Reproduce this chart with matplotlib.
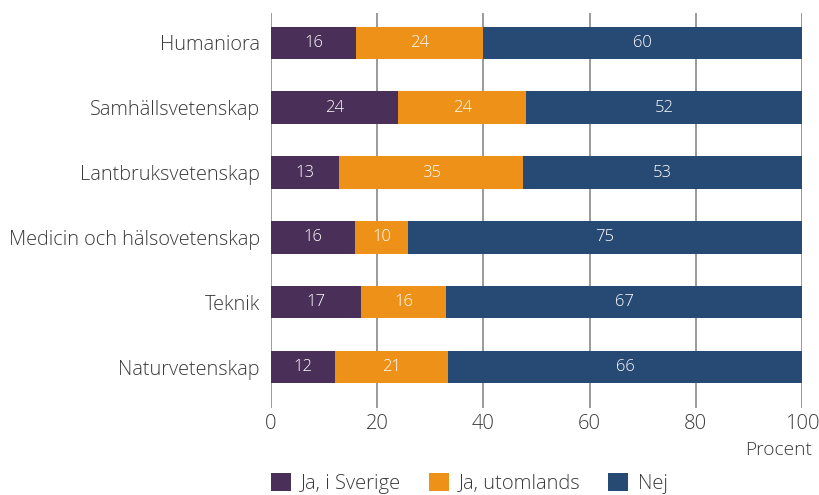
import numpy as np
import matplotlib.pyplot as plt

# andel som svarat, procent
omraden = ['Humaniora', 'Samhällsvetenskap', 'Lantbruksvetenskap',
           'Medicin och hälsovetenskap', 'Teknik', 'Naturvetenskap']
ja_sverige = [16, 24, 13, 16, 17, 12]
ja_utomlands = [24, 24, 35, 10, 16, 21]
nej = [60, 52, 53, 75, 67, 66]
serier = ['Ja, i Sverige', 'Ja, utomlands', 'Nej']
farger = ['#4a3058', '#ee9119', '#274a75']

plt.rcParams['font.family'] = ['Open Sans', 'DejaVu Sans']
plt.rcParams['font.weight'] = 300

fig = plt.figure(figsize=(8.2, 4.95), dpi=100)
ax = fig.add_axes([0.3305, 0.1758, 0.978 - 0.3305, 0.9737 - 0.1758])

data = np.array([ja_sverige, ja_utomlands, nej], dtype=float)
totalt = data.sum(axis=0)
andel = data / totalt * 100  # staplarna går alltid till 100
y = np.arange(len(omraden))

ax.grid(axis='x', color='#9a9a9a', linewidth=1.4, zorder=0)
ax.set_axisbelow(True)

vanster = np.zeros(len(omraden))
for i in range(3):
    ax.barh(y, andel[i], left=vanster, height=0.5, color=farger[i],
            label=serier[i], zorder=2)
    for j in range(len(omraden)):
        ax.text(vanster[j] + andel[i][j] / 2, y[j], str(int(data[i][j])),
                ha='center', va='center', color='white', fontsize=12,
                zorder=3)
    vanster = vanster + andel[i]

ax.set_xlim(0, 100)
ax.set_ylim(5.63, -0.46)
ax.set_xticks([0, 20, 40, 60, 80, 100])
ax.set_yticks(y)
ax.set_yticklabels(omraden, fontsize=14.3, color='#3a3a3a')
ax.tick_params(axis='x', labelsize=14.5, colors='#3a3a3a', length=0, pad=4)
ax.tick_params(axis='y', length=0, pad=8)
for s in ax.spines.values():
    s.set_visible(False)

fig.text(812 / 820, 1 - 450 / 495, 'Procent', ha='right', va='center',
         fontsize=13.8, color='#3a3a3a')

fig.legend(loc='lower left', bbox_to_anchor=(253 / 820, -0.035), ncol=3,
           frameon=False, handlelength=1.0, handleheight=1.0,
           columnspacing=1.35, handletextpad=0.5,
           prop={'size': 14.5, 'weight': 300}, labelcolor='#3a3a3a')

plt.savefig('out.png')
